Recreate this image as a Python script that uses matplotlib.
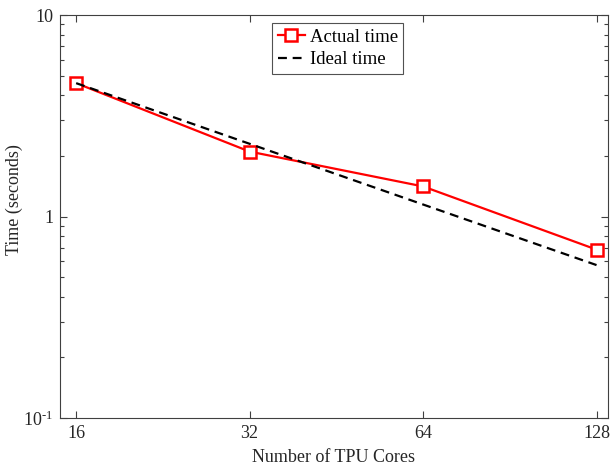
import matplotlib
matplotlib.use("Agg")
import matplotlib.pyplot as plt
from matplotlib.ticker import FixedLocator, FixedFormatter, LogLocator, NullFormatter, NullLocator

plt.rcParams['font.family'] = ['Liberation Serif', 'DejaVu Serif']
plt.rcParams['mathtext.fontset'] = 'custom'
plt.rcParams['mathtext.rm'] = 'Liberation Serif'
plt.rcParams['mathtext.it'] = 'Liberation Serif:italic'

cores = [16, 32, 64, 128]
actual_time = [4.59, 2.10, 1.41, 0.685]
ideal_time = [4.59, 2.295, 1.147, 0.574]
x_tick_labels = ['16', '32', '64', '128']
y_ticks = [0.1, 1, 10]
y_tick_labels = ['$10^{\\text{-}1}$', '1', '10']

axcol = '#404040'
fig = plt.figure(figsize=(6.1, 4.66), dpi=100)
ax = fig.add_axes([60/610, 1-418/466, 548/610, 403/466])

ax.plot(cores, actual_time, color='#ff0000', lw=1.6, marker='s', ms=9,
        mfc='white', mec='#ff0000', mew=1.8, label='Actual time', zorder=3)
ax.plot(cores, ideal_time, color='black', lw=1.6, ls=(0, (4.0, 2.6)),
        label='Ideal time', zorder=4)

ax.set_xscale('log', base=2)
ax.set_yscale('log')
ax.set_xlim(15.0, 134)
ax.set_ylim(0.1, 10)

ax.xaxis.set_major_locator(FixedLocator(cores))
ax.xaxis.set_major_formatter(FixedFormatter(x_tick_labels))
ax.xaxis.set_minor_locator(NullLocator())
ax.yaxis.set_major_locator(FixedLocator(y_ticks))
ax.yaxis.set_major_formatter(FixedFormatter(y_tick_labels))
ax.yaxis.set_minor_locator(LogLocator(base=10, subs=range(2, 10)))
ax.yaxis.set_minor_formatter(NullFormatter())

ax.tick_params(which='both', direction='in', top=True, right=True,
               colors=axcol, labelcolor='#262626', labelsize=13, width=0.8)
ax.tick_params(which='major', length=5, pad=5)
ax.tick_params(which='minor', length=3)
for s in ax.spines.values():
    s.set_color(axcol)
    s.set_linewidth(0.8)

ax.set_xlabel('Number of TPU Cores', fontsize=13, color='#262626', labelpad=5)
ax.set_ylabel('Time (seconds)', fontsize=13, color='#262626')
ax.yaxis.set_label_coords(-0.0675, 0.541)

leg = ax.legend(loc='upper left', bbox_to_anchor=(212/548, 1-8/403), fontsize=13.5,
                frameon=True, fancybox=False, edgecolor='#262626',
                handlelength=1.45, handletextpad=0.25, borderpad=0.3,
                labelspacing=0.3, borderaxespad=0)
leg.get_frame().set_linewidth(0.8)

fig.savefig('out.png', dpi=100)
